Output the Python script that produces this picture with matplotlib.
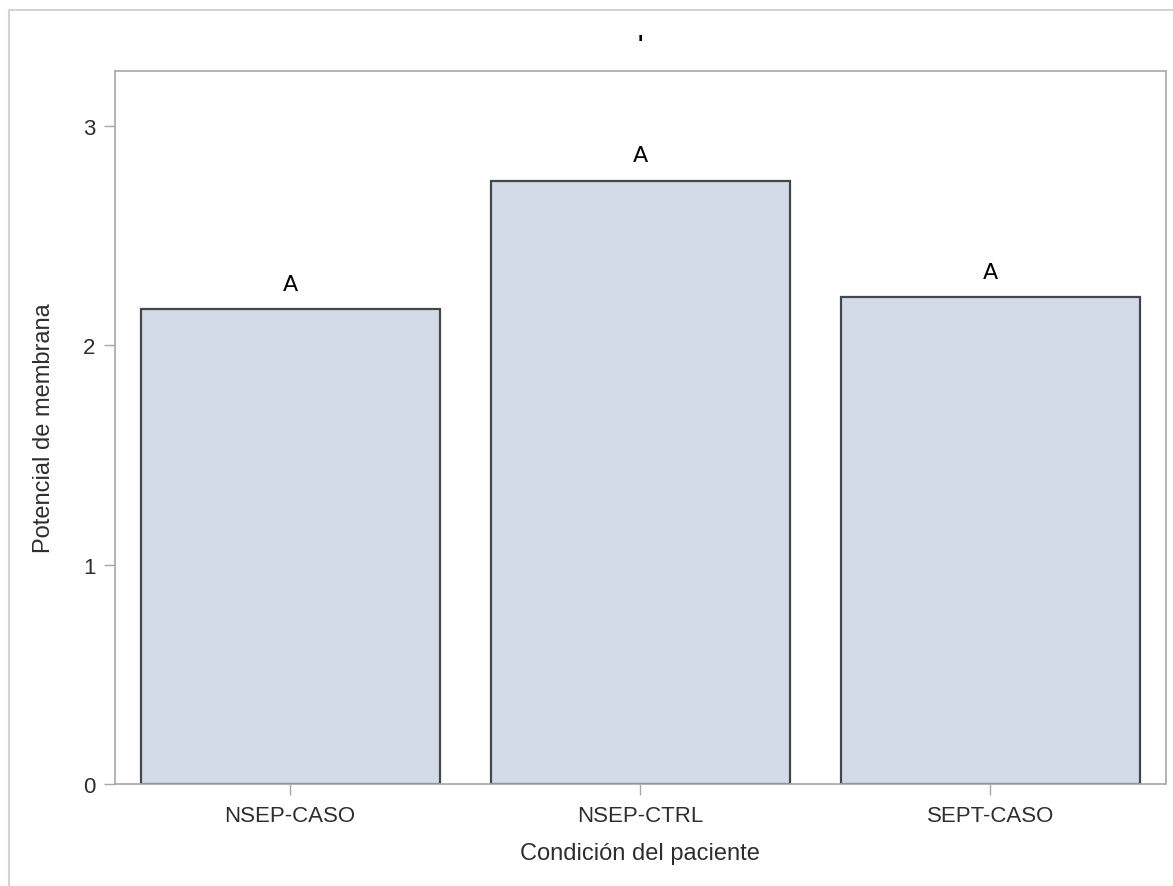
import matplotlib
matplotlib.use("Agg")
import matplotlib.pyplot as plt
from matplotlib.lines import Line2D

# Mean membrane potential per patient condition, with grouping letters
condiciones = ["NSEP-CASO", "NSEP-CTRL", "SEPT-CASO"]
potencial = [2.165, 2.75, 2.22]
grupos = ["A", "A", "A"]

W, H = 1173, 887
fig = plt.figure(figsize=(W / 100, H / 100), dpi=100)
plt.rcParams['font.family'] = ['Liberation Sans', 'DejaVu Sans']

# light frame around the whole graph (only left/top edges fall inside)
for xs, ys in [([9 / W, 9 / W], [0, 1 - 11 / H]), ([9 / W, 1], [1 - 11 / H, 1 - 11 / H])]:
    fig.add_artist(Line2D(xs, ys, transform=fig.transFigure, color='#D3D3D3', lw=1.5))

ax = fig.add_axes([115 / W, (H - 785) / H, (1165.5 - 115) / W, (785 - 72) / H])

x = range(len(condiciones))
bars = ax.bar(x, potencial, width=0.854, color='#D4DBE8', edgecolor='#43464B', linewidth=1.6, zorder=2)

for b, val, g in zip(bars, potencial, grupos):
    ax.annotate(g, (b.get_x() + b.get_width() / 2, val), xytext=(0, 14), textcoords='offset points',
                ha='center', va='baseline', fontsize=16, family='DejaVu Sans', color='black')

ax.set_xlim(-0.5, 2.5)
ax.set_ylim(0, 3.25)
ax.set_xticks(list(x))
ax.set_xticklabels(condiciones)
ax.set_yticks([0, 1, 2, 3])

for s in ax.spines.values():
    s.set_color('#A3A8AD')
    s.set_linewidth(1.2)

ax.tick_params(axis='both', length=8, width=1, color='#A3A8AD', labelsize=16, labelcolor='#2E2E2E')
ax.tick_params(axis='x', pad=7)
ax.tick_params(axis='y', pad=6)

ax.set_xlabel("Condición del paciente", fontsize=17, color='#2E2E2E', labelpad=12)
ax.set_ylabel("Potencial de membrana", fontsize=17, color='#2E2E2E', labelpad=20)

fig.text(640 / W, 1 - 34 / H, "'", ha='center', va='top', fontsize=16, fontweight='bold', color='black')

fig.savefig("out.png", dpi=100)
